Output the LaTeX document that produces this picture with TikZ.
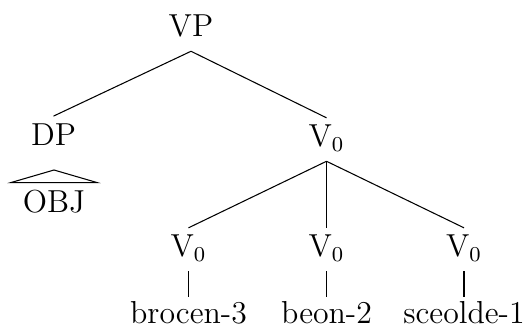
\documentclass[tikz,border=0pt,12pt]{standalone}
\begin{document}
\begin{tikzpicture}[x=0.3774pt, y=-0.3774pt,
        cat/.style={anchor=base, inner xsep=1pt, inner ysep=2.5pt, text height=8.2pt, text depth=2.8pt},
        leaf/.style={anchor=base, inner xsep=1pt, inner ysep=1.2pt, text height=8.3pt, text depth=0pt}]
        \useasboundingbox (0,0) rectangle (525,326);
        \node[cat] (vp) at (191,36.7) {VP};
        \node[cat] (dp) at (53.5,145) {DP};
        \node[cat] (v) at (326.5,146.7) {V$_0$};
        \node[cat] (va) at (188.5,256.7) {V$_0$};
        \node[cat] (vb) at (326.5,256.7) {V$_0$};
        \node[cat] (vc) at (464,256.7) {V$_0$};
        \node[leaf] (la) at (188.5,323) {brocen-3};
        \node[leaf] (lb) at (326.5,323) {beon-2};
        \node[leaf] (lc) at (464,323) {sceolde-1};
        \node[anchor=base, inner xsep=4.3pt, inner ysep=2.9pt, text height=8.2pt, text depth=0pt] (obj) at (54,212.5) {OBJ};
        \coordinate (apex) at (54,170);
        \draw (vp.south) -- (dp.north);
        \draw (vp.south) -- (v.north);
        \draw (v.south) -- (va.north);
        \draw (v.south) -- (vb.north);
        \draw (v.south) -- (vc.north);
        \draw (va.south) -- (la.north);
        \draw (vb.south) -- (lb.north);
        \draw (vc.south) -- (lc.north);
        \draw (obj.north west) -- (apex) -- (obj.north east) -- cycle;
    \end{tikzpicture}
\end{document}
